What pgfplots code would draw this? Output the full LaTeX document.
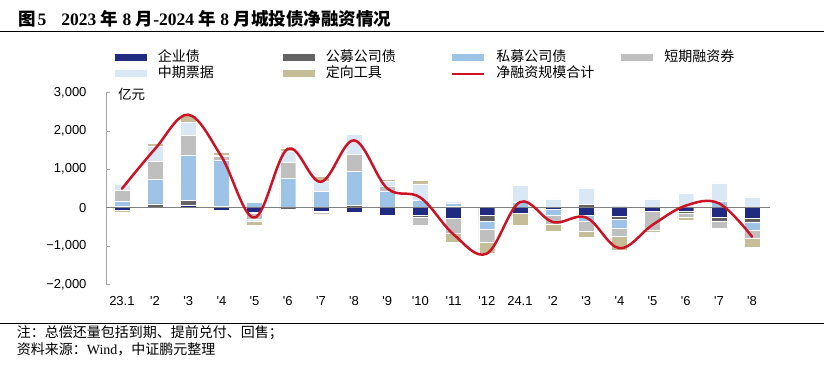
\documentclass[border=0pt]{standalone}
\usepackage{fontspec}
\setmainfont{Liberation Sans}
\newfontfamily\cjk{Noto Sans CJK SC}
\newfontfamily\serif{Liberation Serif}
\newfontfamily\tkf{Liberation Sans}
\usepackage{pgfplots}
\usepackage{pgfplotstable}
\pgfplotsset{compat=1.18}

\definecolor{cCorp}{RGB}{32,42,128}
\definecolor{cPub}{RGB}{99,99,99}
\definecolor{cPriv}{RGB}{157,195,230}
\definecolor{cScp}{RGB}{191,191,191}
\definecolor{cMtn}{RGB}{218,231,245}
\definecolor{cPpn}{RGB}{196,189,151}
\definecolor{cNet}{RGB}{204,18,36}

\pgfplotstableread{
x corp pub priv scp mtn ppn
0 0 25 130 287 157 0
1 0 95 643 461 391 87
2 52 130 1191 504 348 174
3 0 26 1200 122 20 70
4 0 0 130 0 26 0
5 0 0 765 417 287 87
6 0 0 426 0 252 130
7 0 60 887 452 504 0
8 0 0 426 122 139 43
9 0 0 183 0 435 87
10 0 35 78 0 52 0
11 0 0 0 0 0 0
12 0 0 139 0 435 0
13 0 0 0 0 226 0
14 0 78 0 0 435 0
15 0 0 0 0 52 0
16 0 0 0 0 226 0
17 0 0 0 0 383 0
18 0 0 157 0 487 0
19 0 0 0 0 261 0
}\pos

\pgfplotstableread{
x corp pub priv scp mtn ppn
0 -78 0 0 0 0 -35
1 0 0 0 0 0 0
2 0 0 0 0 0 0
3 -78 0 0 -15 0 0
4 -120 -25 0 -148 -70 -87
5 0 -40 0 0 0 0
6 -87 -20 0 -60 0 0
7 -130 0 0 0 0 -26
8 -209 0 0 0 0 0
9 -191 -61 0 -200 0 0
10 -278 0 0 -383 0 -243
11 -209 -157 -191 -348 0 -287
12 -139 0 0 0 0 -313
13 -52 0 -157 -217 0 -200
14 -209 0 -157 -261 0 -148
15 -235 -70 -226 -217 0 -374
16 -104 0 0 -478 0 -70
17 -104 -43 0 -104 0 -87
18 -243 -122 0 -165 0 -43
19 -270 -122 -191 -226 0 -226
}\neg

\pgfplotstableread{
x net
0 490
1 1530
2 2420
3 1330
4 -260
5 1530
6 670
7 1750
8 500
9 260
10 -700
11 -1200
12 140
13 -380
14 -260
15 -1060
16 -450
17 50
18 110
19 -760
}\net

\pgfplotsset{
  base/.style={scale only axis, width=664pt, height=191.9pt,
    at={(106pt,-284.3pt)}, anchor=south west,
    xmin=-0.48, xmax=19.54, ymin=-2000, ymax=3000},
  barleg/.style={legend image code/.code={\fill[##1,draw=none] (0pt,-3.5pt) rectangle (32pt,3.5pt);}},
  segs/.style={draw=white, line width=0.3pt},
}

\begin{document}
\begin{tikzpicture}
\path[use as bounding box] (0,0) rectangle (824pt,-369pt);
\node[anchor=west, inner sep=0pt] at (18pt,-18.5pt) {\fontsize{17.5}{20}\selectfont{\cjk\bfseries 图}\hspace{2pt}{\serif\bfseries 5}\hspace{15pt}{\serif\bfseries 2023 }{\cjk\bfseries 年}{\serif\bfseries{} 8 }{\cjk\bfseries 月}{\serif\bfseries -2024 }{\cjk\bfseries 年}{\serif\bfseries{} 8 }{\cjk\bfseries 月城投债净融资情况}};
\draw[line width=1pt] (0,-32pt) -- (824pt,-32pt);
\draw[line width=1pt] (0,-323pt) -- (824pt,-323pt);
\node[anchor=west, inner sep=0pt] at (16.7pt,-332.5pt) {\cjk\fontsize{14}{16}\selectfont 注：总偿还量包括到期、提前兑付、回售；};
\node[anchor=west, inner sep=0pt] at (16.7pt,-349pt) {\fontsize{14}{16}\selectfont{\cjk 资料来源：}{\serif Wind}{\cjk ，中证鹏元整理}};

% positive stacks, axes and legend
\begin{axis}[base, ybar stacked, bar width=0.48,
  axis lines*=left,
  x axis line style={draw=none},
  y axis line style={draw=gray!70, -},
  tick align=inside, major tick length=4pt,
  ytick={-2000,-1000,0,1000,2000,3000},
  yticklabels={{−2,000},{−1,000},0,{1,000},{2,000},{3,000}},
  ytick style={draw=gray!70},
  yticklabel style={font=\tkf\fontsize{13}{14}\selectfont, xshift=-16pt},
  xtick={0,...,19},
  xticklabels={23.1,'2,'3,'4,'5,'6,'7,'8,'9,'10,'11,'12,24.1,'2,'3,'4,'5,'6,'7,'8},
  xtick style={draw=none},
  xticklabel style={font=\tkf\fontsize{13}{14}\selectfont, yshift=-9pt},
  legend columns=4,
  legend style={at={(0.01355,1.221)}, anchor=north west, draw=none, fill=none,
    inner sep=0pt, outer sep=0pt, row sep=0pt,
    font=\cjk\fontsize{14}{16}\selectfont,
    nodes={inner xsep=0pt, inner ysep=1.5pt, text height=10pt, text depth=3pt, anchor=west},
    /tikz/every odd column/.append style={column sep=11pt},
    /tikz/every even column/.append style={column sep=0pt}},
]
\addplot[fill=cCorp, segs, barleg] table[x=x,y=corp]{\pos};
\addlegendentry{\makebox[125pt][l]{企业债}}
\addplot[fill=cPub, segs, barleg] table[x=x,y=pub]{\pos};
\addlegendentry{\makebox[125pt][l]{公募公司债}}
\addplot[fill=cPriv, segs, barleg] table[x=x,y=priv]{\pos};
\addlegendentry{\makebox[125pt][l]{私募公司债}}
\addplot[fill=cScp, segs, barleg] table[x=x,y=scp]{\pos};
\addlegendentry{\makebox[125pt][l]{短期融资券}}
\addplot[fill=cMtn, segs, barleg] table[x=x,y=mtn]{\pos};
\addlegendentry{\makebox[125pt][l]{中期票据}}
\addplot[fill=cPpn, segs, barleg] table[x=x,y=ppn]{\pos};
\addlegendentry{\makebox[125pt][l]{定向工具}}
\addlegendimage{legend image code/.code={\draw[cNet, line width=2.5pt] (0pt,0pt) -- (32pt,0pt);}}
\addlegendentry{\makebox[125pt][l]{净融资规模合计}}
\end{axis}

% negative stacks
\begin{axis}[base, ybar stacked, bar width=0.48, hide axis]
\addplot[fill=cCorp, segs] table[x=x,y=corp]{\neg};
\addplot[fill=cPub, segs] table[x=x,y=pub]{\neg};
\addplot[fill=cPriv, segs] table[x=x,y=priv]{\neg};
\addplot[fill=cScp, segs] table[x=x,y=scp]{\neg};
\addplot[fill=cMtn, segs] table[x=x,y=mtn]{\neg};
\addplot[fill=cPpn, segs] table[x=x,y=ppn]{\neg};
\end{axis}

% zero line and net financing line
\begin{axis}[base, hide axis]
\addplot[gray, line width=1.2pt] coordinates {(-0.48,0) (19.54,0)};
\addplot[cNet, line width=2.5pt, smooth, tension=0.6, line join=round, line cap=round] table[x=x,y=net]{\net};
\end{axis}
\node[anchor=west, inner sep=0pt] at (118pt,-94pt) {\cjk\fontsize{13.5}{15}\selectfont 亿元};
\end{tikzpicture}
\end{document}
